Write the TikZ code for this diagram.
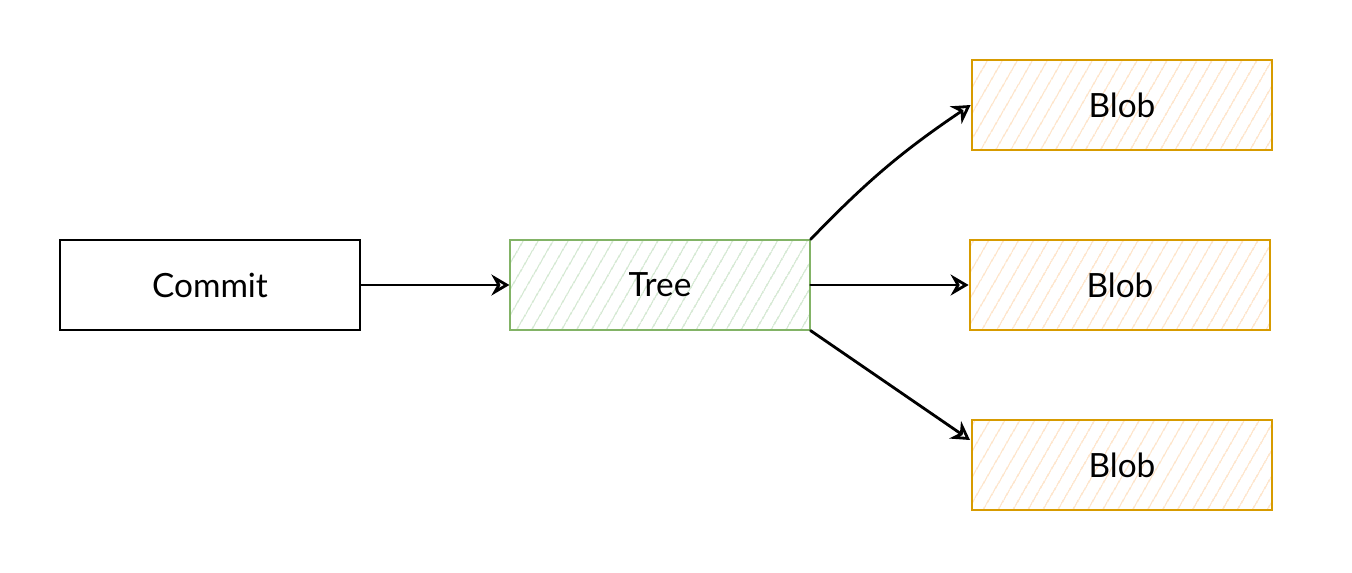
\documentclass[tikz,border=0pt]{standalone}
\usepackage{fontspec}
\setmainfont{Lato}
\usetikzlibrary{arrows.meta,patterns.meta,decorations.pathmorphing}
\definecolor{treeline}{HTML}{82B366}
\definecolor{treefill}{HTML}{C2DEBF}
\definecolor{blobline}{HTML}{D79B00}
\definecolor{blobfill}{HTML}{FDD8B2}
\begin{document}
\begin{tikzpicture}[x=0.02cm, y=-0.02cm,
    box/.style={draw, line width=1.6pt, minimum width=6cm, minimum height=1.8cm,
      font=\fontsize{19}{22}\selectfont, inner sep=0pt},
    treebox/.style={box, draw=treeline,
      pattern={Lines[angle=60, distance=0.26cm, line width=0.7pt]}, pattern color=treefill},
    blobbox/.style={box, draw=blobline,
      pattern={Lines[angle=60, distance=0.26cm, line width=0.7pt]}, pattern color=blobfill},
    link/.style={-{Stealth[open, length=0.36cm, width=0.42cm]}, line width=1.6pt, line cap=round}]
  \useasboundingbox (0,0) rectangle (1352,572);

  % Define nodes
  \node[box] (commit) at (210,285) {Commit};
  \node[treebox] (tree) at (660,285) {Tree};
  \node[blobbox] (blobA) at (1122,105) {Blob};
  \node[blobbox] (blobB) at (1120,285) {Blob};
  \node[blobbox] (blobC) at (1122,465) {Blob};
  \coordinate (blobCin) at (970,440);

  % Define edges
  \draw[link] (commit) -- (tree);
  \draw[link] (tree) -- (blobB);
  \draw[link, bend left=6] (tree.north east) to (blobA.west);
  \draw[link] (tree.south east) -- (blobCin);
\end{tikzpicture}
\end{document}
